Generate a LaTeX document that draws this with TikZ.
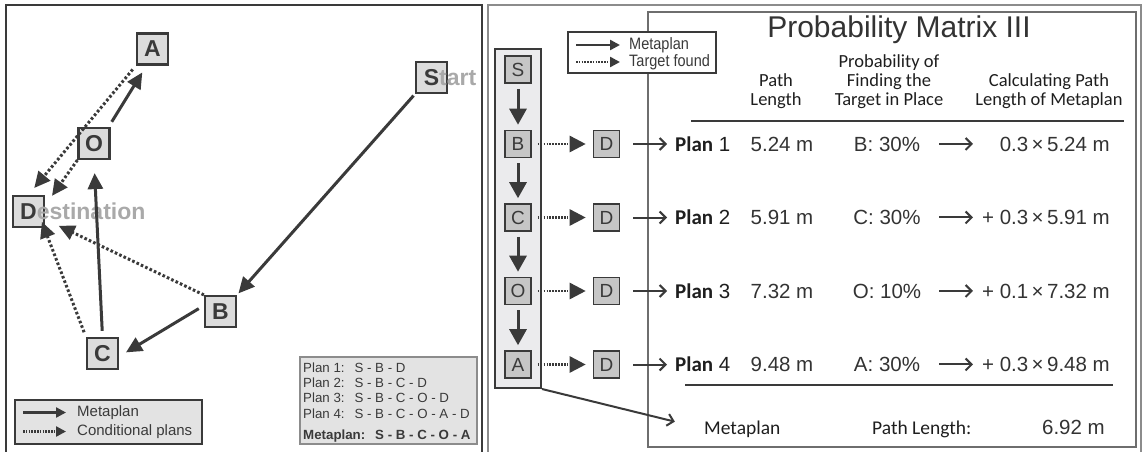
\documentclass[tikz,border=0pt]{standalone}
\usepackage{fontspec}
\setmainfont{Liberation Sans}
\newfontfamily\myriad{Carlito}
\newfontfamily\narrow{Liberation Sans}[FakeStretch=0.88]
\usetikzlibrary{arrows.meta}

\definecolor{ink}{HTML}{3A3A3A}
\definecolor{boxfill}{HTML}{DCDCDC}
\definecolor{legfill}{HTML}{E3E3E3}
\definecolor{rfill}{HTML}{C6C6C6}
\definecolor{colfill}{HTML}{EBEBED}
\definecolor{faint}{HTML}{A9A9A9}
\definecolor{panelgray}{HTML}{8C8C8C}
\definecolor{framegray}{HTML}{6E6E6E}
\definecolor{textdark}{HTML}{1E1E1E}
\definecolor{numtext}{HTML}{333333}

\tikzset{
  mapbox/.style={draw=ink, line width=2.2pt, fill=boxfill, minimum size=31pt,
    inner sep=0pt, text=ink, font=\fontsize{23}{23}\selectfont\bfseries},
  metaarrow/.style={draw=ink, line width=3pt, -{Triangle[length=16pt,width=15pt]}},
  condarrow/.style={draw=ink, line width=3pt, dash pattern=on 2.6pt off 2.2pt,
    -{Triangle[length=16pt,width=15pt]}},
  legmeta/.style={draw=ink, line width=2.4pt, -{Triangle[length=10pt,width=10pt]}},
  legcond/.style={draw=ink, line width=2.4pt, dash pattern=on 1.6pt off 1.2pt,
    -{Triangle[length=10pt,width=10pt]}},
  legtext/.style={anchor=west, inner sep=0pt, text=ink, font=\fontsize{15}{15}\selectfont},
  rbox/.style={draw=ink, line width=1.6pt, fill=rfill, minimum width=26pt,
    minimum height=27pt, inner sep=0pt, text=ink, font=\fontsize{19}{19}\selectfont},
  colarrow/.style={draw=ink, line width=3pt, -{Triangle[length=16pt,width=17pt]},
    shorten <=5pt, shorten >=5pt},
  foundarrow/.style={draw=ink, line width=2.6pt, dash pattern=on 1.6pt off 1.3pt,
    -{Triangle[length=16pt,width=16pt]}, shorten <=6pt, shorten >=7pt},
  rowarrow/.style={draw=ink, line width=2pt, -{Straight Barb[length=6pt,width=12pt]}},
  rlegtext/.style={anchor=west, inner sep=0pt, text=ink, font=\narrow\fontsize{16.5}{16.5}\selectfont},
  val/.style={inner sep=0pt, text=numtext, font=\fontsize{20.5}{20.5}\selectfont},
  plantext/.style={inner sep=0pt, text=textdark, font=\fontsize{20.5}{20.5}\selectfont},
  hdr/.style={inner sep=0pt, align=center, text=textdark, font=\myriad\fontsize{18.5}{19}\selectfont},
  plans/.style={inner sep=0pt, anchor=base west, text=ink, font=\fontsize{13.3}{13.3}\selectfont},
}

\begin{document}
\begin{tikzpicture}[x=1pt,y=-1pt]
\useasboundingbox (0,0) rectangle (1142,451);

% ---------- left panel: map of places ----------
\draw[ink, line width=2.5pt] (6,453) -- (6,5) -- (482,5) -- (482,453);

\node[mapbox] (A) at (152.5,49) {A};
\node[mapbox] (S) at (431.5,77.5) {S\rlap{\color{faint}tart}};
\node[mapbox] (O) at (94,143.5) {O};
\node[mapbox] (D) at (28.5,211.5) {D\rlap{\color{faint}estination}};
\node[mapbox] (B) at (220.5,311.5) {B};
\node[mapbox] (C) at (102.5,353.5) {C};

% metaplan S-B-C-O-A
\draw[metaarrow, shorten <=2pt, shorten >=2pt] (S.south west) -- (B.north east);
\draw[metaarrow, shorten <=6pt, shorten >=8pt] ([yshift=6pt]B.west) -- ([yshift=-3pt]C.east);
\draw[metaarrow, shorten <=6pt, shorten >=13pt] (C.north) -- (O.south);
\draw[metaarrow, shorten <=6pt, shorten >=8pt] ([xshift=-2pt]O.north east) -- ([xshift=-6pt]A.south);
% conditional plans ending at D
\draw[condarrow, shorten <=5pt, shorten >=9pt] (A.south west) -- (D.north);
\draw[condarrow, shorten >=5pt] (O.south west) -- ([xshift=4pt,yshift=-5pt]D.north east);
\draw[condarrow, shorten >=4pt] (B.north west) -- ([xshift=10pt,yshift=4pt]D.south east);
\draw[condarrow, shorten <=5pt, shorten >=4pt] (C.north west) -- ([xshift=12pt,yshift=10pt]D.south);

% legend
\node[draw=ink, line width=2.4pt, fill=legfill, minimum width=187pt, minimum height=44pt,
      inner sep=0pt] (legL) at (108.5,422) {};
\coordinate (lm0) at (23,412.5);  \coordinate (lm1) at (66,412.5);
\coordinate (lc0) at (23,431.5);  \coordinate (lc1) at (66,431.5);
\draw[legmeta] (lm0) -- (lm1);
\draw[legcond] (lc0) -- (lc1);
\node[legtext] (legLm) at (77,412.5) {Metaplan};
\node[legtext] (legLc) at (77,431.5) {Conditional plans};

% list of plans
\node[draw=panelgray, line width=1.6pt, fill=legfill, minimum width=177pt, minimum height=87pt,
      inner sep=0pt] (planbox) at (388.5,400.5) {};
\node[plans] (pl1t) at (303,372) {Plan 1:\hspace{5pt} S - B - D};
\node[plans] (pl2t) at (303,387.3) {Plan 2:\hspace{5pt} S - B - C - D};
\node[plans] (pl3t) at (303,402.6) {Plan 3:\hspace{5pt} S - B - C - O - D};
\node[plans] (pl4t) at (303,418) {Plan 4:\hspace{5pt} S - B - C - O - A - D};
\node[plans, font=\fontsize{13.3}{13.3}\selectfont\bfseries] (mpt) at (303,439) {Metaplan:\hspace{5pt} S - B - C - O - A};

% ---------- right panel: probability matrix ----------
\draw[panelgray, line width=2pt] (488,453) -- (488,5) -- (1141,5) -- (1141,453);
\draw[framegray, line width=1.3pt] (648,12) rectangle (1136,447);

% legend
\node[draw=ink, line width=2.4pt, fill=white, minimum width=148pt, minimum height=41pt,
      inner sep=0pt] (legR) at (642,52.5) {};
\coordinate (rm0) at (576,45);  \coordinate (rm1) at (620,45);
\coordinate (rc0) at (576,62);  \coordinate (rc1) at (620,62);
\draw[legmeta] (rm0) -- (rm1);
\draw[legcond] (rc0) -- (rc1);
\node[rlegtext] (legRm) at (629,45) {Metaplan};
\node[rlegtext] (legRt) at (629,62) {Target found};

% title and column heads
\node[inner sep=0pt, anchor=base, text=numtext, font=\fontsize{30}{30}\selectfont] (title) at (899,37) {Probability Matrix III};
\node[hdr, anchor=south] (hPath) at (776,109) {Path\\Length};
\node[hdr, anchor=south] (hProb) at (889,109) {Probability of\\Finding the\\Target in Place};
\node[hdr, anchor=south] (hCalc) at (1049,109) {Calculating Path\\Length of Metaplan};
\draw[ink, line width=1.6pt] (691,121) -- (1124,121);

% metaplan column
\node[draw=ink, line width=2pt, fill=colfill, minimum width=46pt, minimum height=339pt,
      inner sep=0pt] (metacol) at (518,218.5) {};
\node[rbox] (cS) at (518,69.5) {S};
\node[rbox] (cB) at (518,144) {B};
\node[rbox] (cC) at (518,217.5) {C};
\node[rbox] (cO) at (518,291) {O};
\node[rbox] (cA) at (518,364.5) {A};
\draw[colarrow] (cS.south) -- (cB.north);
\draw[colarrow] (cB.south) -- (cC.north);
\draw[colarrow] (cC.south) -- (cO.north);
\draw[colarrow] (cO.south) -- (cA.north);

\node[rbox] (dB) at (606.5,144) {D};
\node[rbox] (dC) at (606.5,217.5) {D};
\node[rbox] (dO) at (606.5,291) {D};
\node[rbox] (dA) at (606.5,364.5) {D};
\draw[foundarrow] (cB.east) -- (dB.west);
\draw[foundarrow] (cC.east) -- (dC.west);
\draw[foundarrow] (cO.east) -- (dO.west);
\draw[foundarrow] (cA.east) -- (dA.west);

% plan rows
\foreach \i/\y/\len/\prob/\calc in {
    1/151/5.24/B: 30\%/{0.3\,×\,5.24 m},
    2/224.5/5.91/C: 30\%/{+ 0.3\,×\,5.91 m},
    3/298/7.32/O: 10\%/{+ 0.1\,×\,7.32 m},
    4/371.5/9.48/A: 30\%/{+ 0.3\,×\,9.48 m}} {
  \node[plantext, anchor=base west] (plan\i) at (675,\y)
    {{\myriad\fontsize{21}{21}\selectfont\bfseries Plan} \i};
  \node[val, anchor=base] (len\i) at (782,\y) {\len\ m};
  \node[val, anchor=base] (prob\i) at (887,\y) {\prob};
  \node[val, anchor=base east] (calc\i) at (1110,\y) {\calc};
  \draw[rowarrow] ([xshift=52pt]prob\i.center) -- ([xshift=86pt]prob\i.center);
}
\draw[rowarrow, shorten <=13pt, shorten >=8pt] (dB.east) -- (plan1.west |- dB.east);
\draw[rowarrow, shorten <=13pt, shorten >=8pt] (dC.east) -- (plan2.west |- dC.east);
\draw[rowarrow, shorten <=13pt, shorten >=8pt] (dO.east) -- (plan3.west |- dO.east);
\draw[rowarrow, shorten <=13pt, shorten >=8pt] (dA.east) -- (plan4.west |- dA.east);

\draw[ink, line width=1.6pt] (685,385) -- (1113,385);

% summary row
\node[inner sep=0pt, anchor=base west, text=textdark, font=\myriad\fontsize{19.5}{19.5}\selectfont] (mLbl) at (704,434) {Metaplan};
\node[inner sep=0pt, anchor=base west, text=textdark, font=\myriad\fontsize{19.5}{19.5}\selectfont] (plLbl) at (872,434) {Path Length:};
\node[val, anchor=base east] (mVal) at (1105,434) {6.92 m};
\draw[rowarrow, shorten >=30pt] (metacol.south east) -- (mLbl.west);

\end{tikzpicture}
\end{document}
